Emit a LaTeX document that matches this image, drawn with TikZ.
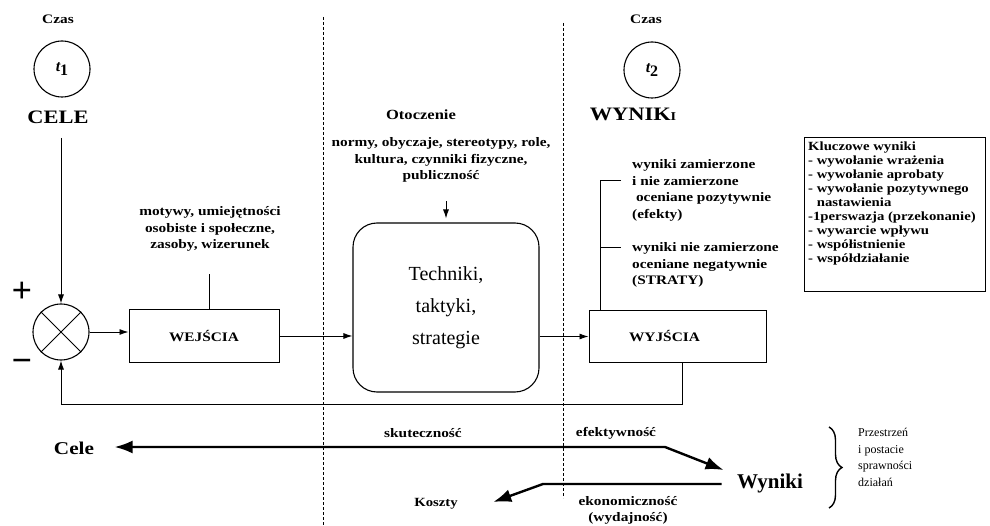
\documentclass[tikz,border=0pt]{standalone}
\usepackage{fontspec}
\setmainfont{Liberation Serif}
\newfontfamily\bw[FakeStretch=1.18]{Liberation Serif}
\usetikzlibrary{arrows.meta,decorations.pathreplacing,calc}
\begin{document}
\begin{tikzpicture}[x=1pt,y=-1pt,
  txt/.style={font=\bw\bfseries\fontsize{13}{16.5}\selectfont, align=center, inner sep=0pt},
  ltxt/.style={font=\bw\bfseries\fontsize{13}{16.8}\selectfont, align=left, inner sep=0pt, anchor=north west},
  box/.style={draw, line width=1pt, inner sep=0pt, font=\bw\bfseries\fontsize{13}{15}\selectfont},
  arr/.style={-{Latex[length=9pt,width=6pt]}, line width=0.9pt},
  dashline/.style={line width=1pt, dash pattern=on 3pt off 2pt},
  bigarr/.style={line width=2.4pt},
  czas/.style={font=\bw\bfseries\fontsize{13}{15}\selectfont},
  tcirc/.style={circle, draw, line width=1.1pt, minimum size=56pt, inner sep=0pt}]
\useasboundingbox (0,0) rectangle (990,526);

% time circles
\node[czas] (czas1) at (58,19) {Czas};
\node[tcirc] (t1) at (62,69)
  {\fontsize{16}{16}\selectfont\bfseries\itshape t\raisebox{-4pt}{\upshape 1}};
\node[font=\bw\bfseries\fontsize{19}{21}\selectfont] (cele) at (58,117) {CELE};

\node[czas] (czas2) at (646,19) {Czas};
\node[tcirc] (t2) at (652,70)
  {\fontsize{16}{16}\selectfont\bfseries\itshape t\raisebox{-4pt}{\upshape 2}};
\node[font=\bw\bfseries\fontsize{19}{21}\selectfont] (wyniki) at (633,114) {WYNIK{\fontsize{12}{12}\selectfont I}};

% dashed separators
\coordinate (d1a) at (323,17);
\coordinate (d1b) at (323,526);
\coordinate (d2a) at (563,23);
\coordinate (d2b) at (563,498);
\draw[dashline] (d1a) -- (d1b);
\draw[dashline] (d2a) -- (d2b);

% summing junction
\node[circle, draw, line width=1.1pt, minimum size=56pt, inner sep=0pt] (sum) at (61,332) {};
\draw[line width=1pt] (sum.north west) -- (sum.south east);
\draw[line width=1pt] (sum.north east) -- (sum.south west);
\node[font=\bfseries\fontsize{36}{36}\selectfont] (plus) at (22,292) {+};
\node[font=\bfseries\fontsize{36}{36}\selectfont] (minus) at (22,366) {−};
\coordinate (celeline) at (61,138);
\draw[arr] (celeline) -- (sum.north);

% inputs
\node[box, minimum width=150pt, minimum height=52pt] (wej) at (204,336) {WEJŚCIA};
\node[txt] (mot) at (210,229) {motywy, umiejętności\\osobiste i społeczne,\\zasoby, wizerunek};
\draw[line width=1pt] ($(wej.north)+(5,0)$) -- ++(0,-35);
\draw[arr] (sum.east) -- (sum.east -| wej.west);

% techniques
\node[draw, line width=1.1pt, rounded corners=24pt, minimum width=186pt, minimum height=169pt,
  font=\fontsize{20}{32}\selectfont, align=center] (tech) at (446,307.5) {Techniki,\\taktyki,\\strategie};
\draw[arr] (wej.east) -- (wej.east -| tech.west);
\node[font=\bw\bfseries\fontsize{14}{16}\selectfont] (oto) at (421,115) {Otoczenie};
\node[txt] (norm) at (441,160) {normy, obyczaje, stereotypy, role,\\kultura, czynniki fizyczne,\\publiczność};
\draw[arr] ($(tech.north)+(0,-21)$) -- ($(tech.north)+(0,-4)$);

% outputs
\node[box, minimum width=177pt, minimum height=51pt] (wyj) at (677.5,336.5) {WYJŚCIA\hspace*{26pt}};
\draw[arr] (wyj.west -| tech.east) -- (wyj.west);
\draw[arr] ($(wyj.south)+(4.5,0)$) -- ++(0,42) -| (sum.south);

\coordinate (b1) at (600,181);
\coordinate (b1e) at (621,181);
\coordinate (b2) at (600,248);
\coordinate (b2e) at (621,248);
\draw[line width=1pt] (b1e) -- (b1) -- (b1 |- wyj.north);
\draw[line width=1pt] (b2) -- (b2e);
\node[ltxt] (efe) at (632,159) {wyniki zamierzone\\i nie zamierzone\\\ oceniane pozytywnie\\(efekty)};
\node[ltxt] (str) at (632,242) {wyniki nie zamierzone\\oceniane negatywnie\\(STRATY)};

% key results
\node[draw, line width=1pt, anchor=north west, minimum width=181pt, minimum height=154pt, inner sep=0pt] (klu) at (804,137) {};
\node[anchor=north west, align=left, inner sep=0pt, font=\bw\bfseries\fontsize{12.5}{14}\selectfont] (klut) at (808,142)
 {Kluczowe wyniki\\
  -\ wywołanie wrażenia\\
  -\ wywołanie aprobaty\\
  -\ wywołanie pozytywnego\\
  \hphantom{-\ }nastawienia\\
  -1perswazja (przekonanie)\\
  -\ wywarcie wpływu\\
  -\ współistnienie\\
  -\ współdziałanie};

% efficiency space
\node[font=\bw\bfseries\fontsize{18}{20}\selectfont] (cele2) at (74,448) {Cele};
\node[font=\bfseries\fontsize{21}{23}\selectfont] (wyn2) at (770,483) {Wyniki};
\node[font=\bw\bfseries\fontsize{12.5}{14}\selectfont] (kosz) at (436,504) {Koszty};
\coordinate (k1) at (665,447);
\coordinate (k2) at (543,484);
\draw[bigarr, {Latex[length=18pt,width=13pt]}-{Latex[length=18pt,width=13pt]}]
  ($(cele2.east)+(17,-1)$) -- (k1) -- ($(wyn2.west)+(-10,-13)$);
\draw[bigarr, -{Latex[length=18pt,width=13pt]}]
  ($(wyn2.west)+(-12,1)$) -- (k2) -- ($(kosz.east)+(32,-2)$);
\node[font=\bw\bfseries\fontsize{13}{15}\selectfont] (sku) at (423,433) {skuteczność};
\node[font=\bw\bfseries\fontsize{13}{15}\selectfont] (efk) at (616,433) {efektywność};
\node[font=\bw\bfseries\fontsize{13}{16}\selectfont, align=center] (eko) at (628,510) {ekonomiczność\\(wydajność)};
\coordinate (br1) at (829,427);
\coordinate (br2) at (829,508);
\draw[decorate, decoration={brace, amplitude=13pt}, line width=1.4pt] (br1) -- (br2);
\node[anchor=north west, align=left, inner sep=0pt, font=\fontsize{12}{16.5}\selectfont] (prz) at (858,428)
  {Przestrzeń\\i postacie\\sprawności\\działań};
\end{tikzpicture}
\end{document}
